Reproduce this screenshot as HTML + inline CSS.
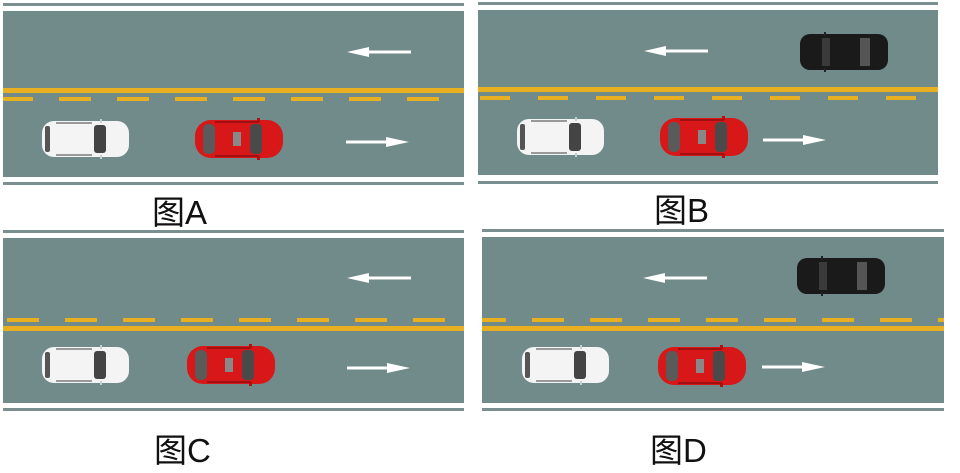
<!DOCTYPE html>
<html><head><meta charset="utf-8"><style>
html,body{margin:0;padding:0;background:#fff;width:960px;height:473px;overflow:hidden}
svg{display:block}
text{font-family:"Liberation Sans","Noto Sans CJK SC",sans-serif;font-size:33px;fill:#111}
</style></head><body>
<svg width="960" height="473" viewBox="0 0 960 473" xmlns="http://www.w3.org/2000/svg">
<defs>
<g id="red">
  <rect x="0" y="2" width="88" height="38" rx="16" fill="#d81818"/>
  <rect x="8" y="6" width="12" height="30" rx="5" fill="#5a5a5a"/>
  <rect x="55" y="6" width="12" height="30" rx="4" fill="#4a4a4a"/>
  <rect x="38" y="14" width="8" height="14" fill="#888"/>
  <rect x="20" y="3" width="44" height="2" fill="#a01010"/>
  <rect x="20" y="37" width="44" height="2" fill="#a01010"/>
  <rect x="62" y="0" width="3" height="4" fill="#b01010"/>
  <rect x="62" y="38" width="3" height="4" fill="#b01010"/>
</g>
<g id="white">
  <rect x="0" y="2" width="87" height="36" rx="12" fill="#f4f4f4"/>
  <rect x="3" y="7" width="5" height="26" rx="2" fill="#555"/>
  <rect x="52" y="6" width="12" height="28" rx="3" fill="#444"/>
  <rect x="14" y="3" width="36" height="2" fill="#999"/>
  <rect x="14" y="35" width="36" height="2" fill="#999"/>
  <rect x="58" y="0" width="2" height="4" fill="#ccc"/>
  <rect x="58" y="36" width="2" height="4" fill="#ccc"/>
</g>
<g id="black">
  <rect x="0" y="2" width="88" height="36" rx="10" fill="#1a1a1a"/>
  <rect x="22" y="6" width="8" height="28" fill="#3a3a3a"/>
  <rect x="60" y="6" width="10" height="28" fill="#555"/>
  <rect x="24" y="0" width="2" height="4" fill="#222"/>
  <rect x="24" y="36" width="2" height="4" fill="#222"/>
</g>
<g id="la"><rect x="14" y="-1.5" width="50" height="3" fill="#fff"/><polygon points="0,0 22,-5 22,5" fill="#fff"/></g>
<g id="ra"><rect x="0" y="-1.5" width="48" height="3" fill="#fff"/><polygon points="63,0 40,-5 40,5" fill="#fff"/></g>
</defs>

<!-- Panel A -->
<rect x="3" y="3" width="461" height="3" fill="#7a8f8f"/>
<rect x="3" y="11" width="461" height="166" fill="#718a8a"/>
<rect x="3" y="182" width="461" height="3" fill="#7a8f8f"/>
<rect x="3" y="88" width="461" height="5" fill="#e8b020"/>
<line x1="3" y1="99" x2="464" y2="99" stroke="#e8b020" stroke-width="4" stroke-dasharray="32,26" stroke-dashoffset="2"/>
<use href="#la" x="347" y="52"/>
<use href="#ra" x="346" y="142"/>
<use href="#white" x="42" y="119"/>
<use href="#red" x="195" y="118"/>
<text x="152" y="224">图A</text>

<!-- Panel B -->
<rect x="478" y="2" width="460" height="3" fill="#7a8f8f"/>
<rect x="478" y="10" width="460" height="165" fill="#718a8a"/>
<rect x="478" y="181" width="460" height="3" fill="#7a8f8f"/>
<rect x="478" y="87" width="460" height="5" fill="#e8b020"/>
<line x1="478" y1="98" x2="938" y2="98" stroke="#e8b020" stroke-width="4" stroke-dasharray="30,28" stroke-dashoffset="-2"/>
<use href="#black" x="800" y="32"/>
<use href="#la" x="644" y="51"/>
<use href="#ra" x="763" y="140"/>
<use href="#white" x="517" y="117"/>
<use href="#red" x="660" y="116"/>
<text x="654" y="222">图B</text>

<!-- Panel C -->
<rect x="3" y="230" width="461" height="3" fill="#7a8f8f"/>
<rect x="3" y="238" width="461" height="165" fill="#718a8a"/>
<rect x="3" y="408" width="461" height="3" fill="#7a8f8f"/>
<line x1="3" y1="320" x2="464" y2="320" stroke="#e8b020" stroke-width="4" stroke-dasharray="32,26" stroke-dashoffset="-4"/>
<rect x="3" y="326" width="461" height="5" fill="#e8b020"/>
<use href="#la" x="347" y="278"/>
<use href="#ra" x="347" y="368"/>
<use href="#white" x="42" y="345"/>
<use href="#red" x="187" y="344"/>
<text x="154" y="462">图C</text>

<!-- Panel D -->
<rect x="482" y="229" width="462" height="3" fill="#7a8f8f"/>
<rect x="482" y="237" width="462" height="166" fill="#718a8a"/>
<rect x="482" y="408" width="462" height="3" fill="#7a8f8f"/>
<line x1="482" y1="320" x2="944" y2="320" stroke="#e8b020" stroke-width="4" stroke-dasharray="32,26" stroke-dashoffset="8"/>
<rect x="482" y="326" width="462" height="5" fill="#e8b020"/>
<use href="#black" x="797" y="256"/>
<use href="#la" x="643" y="278"/>
<use href="#ra" x="762" y="367"/>
<use href="#white" x="522" y="345"/>
<use href="#red" x="658" y="345"/>
<text x="650" y="462">图D</text>
</svg>
</body></html>
